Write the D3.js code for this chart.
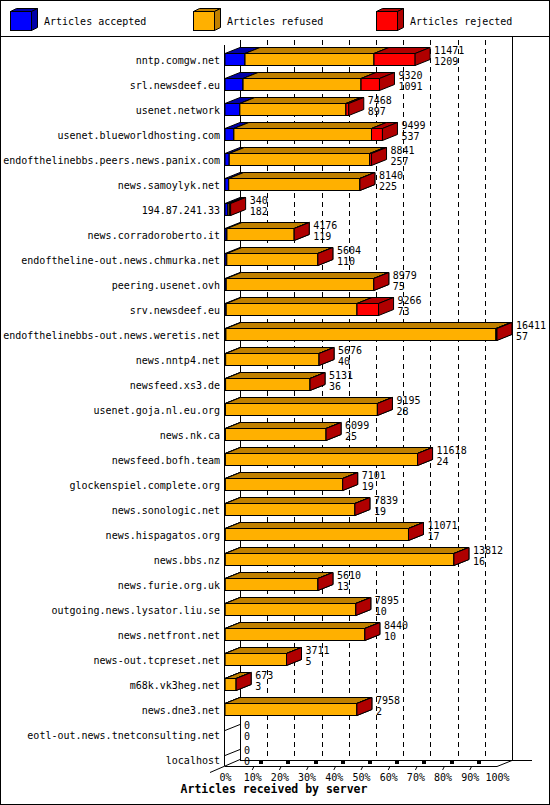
<!DOCTYPE html>
<html>
<head>
<meta charset="utf-8">
<script src="https://cdn.jsdelivr.net/npm/d3@7"></script>
<style>
  body { margin: 0; background: #fff; }
  #chart text { font-family: "DejaVu Sans Mono", monospace; font-size: 10px; fill: #000; }
</style>
</head>
<body>
<div id="chart"></div>
<script>
var servers = [
  'nntp.comgw.net', 'srl.newsdeef.eu', 'usenet.network', 'usenet.blueworldhosting.com',
  'endofthelinebbs.peers.news.panix.com', 'news.samoylyk.net', '194.87.241.33',
  'news.corradoroberto.it', 'endoftheline-out.news.chmurka.net', 'peering.usenet.ovh',
  'srv.newsdeef.eu', 'endofthelinebbs-out.news.weretis.net', 'news.nntp4.net',
  'newsfeed.xs3.de', 'usenet.goja.nl.eu.org', 'news.nk.ca', 'newsfeed.bofh.team',
  'glockenspiel.complete.org', 'news.sonologic.net', 'news.hispagatos.org', 'news.bbs.nz',
  'news.furie.org.uk', 'outgoing.news.lysator.liu.se', 'news.netfront.net',
  'news-out.tcpreset.net', 'm68k.vk3heg.net', 'news.dne3.net',
  'eotl-out.news.tnetconsulting.net', 'localhost'
];
// first label on each bar = all articles offered, second = accepted
var totals = [11471, 9320, 7468, 9499, 8841, 8140, 340, 4176, 5604, 8979, 9266, 16411, 5676,
  5131, 9195, 6099, 11618, 7101, 7839, 11071, 13812, 5610, 7895, 8440, 3711, 673, 7958, 0, 0];
var accepted = [1209, 1091, 897, 537, 257, 225, 182, 119, 110, 75, 73, 57, 40,
  36, 28, 25, 24, 19, 19, 17, 16, 13, 10, 10, 5, 3, 2, 0, 0];
var rejected = [2480, 1110, 170, 660, 110, 0, 75, 0, 0, 0, 1300, 60, 0,
  0, 0, 0, 0, 0, 0, 0, 0, 0, 0, 0, 0, 0, 0, 0, 0];
var seriesNames = ['Articles accepted', 'Articles refused', 'Articles rejected'];
var pctTicks = [0, 10, 20, 30, 40, 50, 60, 70, 80, 90, 100];
var axisTitle = 'Articles received by server';

(function () {
  var width = 550;
  var height = 805;
  var DX = 15;
  var DY = 6;
  var half = 6;
  var front = ['#0000ff', '#ffb000', '#ff0000'];
  var dark = ['#0000a8', '#c08000', '#b00000'];

  var refused = totals.map(function (t, i) { return t - accepted[i] - rejected[i]; });
  var rows = servers.map(function (name, i) {
    return { name: name, total: totals[i], values: [accepted[i], refused[i], rejected[i]], acc: accepted[i] };
  });

  var svg = d3.select('#chart').append('svg')
    .attr('width', width)
    .attr('height', height);

  var x = d3.scaleLinear().domain([0, d3.max(totals)]).range([225, 497]);
  var pct = d3.scaleLinear().domain([0, 100]).range([225, 497]);
  var y = d3.scaleBand().domain(servers).range([47, 47 + servers.length * 25]);
  function cy(name) { return y(name) + y.bandwidth() / 2; }

  var floorBack = 760;
  var floorFront = floorBack + DY;
  var top = 40;

  // frame and legend box
  svg.append('rect').attr('x', 0.5).attr('y', 0.5).attr('width', width - 1).attr('height', height - 1)
    .attr('fill', 'none').attr('stroke', '#000');
  svg.append('line').attr('x1', 0).attr('x2', width).attr('y1', 36.5).attr('y2', 36.5).attr('stroke', '#000');

  var legendX = [10, 193, 376];
  seriesNames.forEach(function (name, s) {
    var lx = legendX[s];
    var g = svg.append('g').attr('stroke', '#000').attr('stroke-width', 1);
    g.append('rect').attr('x', lx + 0.5).attr('y', 11.5).attr('width', 21).attr('height', 19).attr('fill', front[s]);
    g.append('polygon').attr('points', [[lx + 0.5, 11.5], [lx + 21.5, 11.5], [lx + 27.5, 8.5], [lx + 6.5, 8.5]].join(' '))
      .attr('fill', dark[s]);
    g.append('polygon').attr('points', [[lx + 21.5, 11.5], [lx + 27.5, 8.5], [lx + 27.5, 27.5], [lx + 21.5, 30.5]].join(' '))
      .attr('fill', dark[s]);
    svg.append('text').attr('x', lx + 34).attr('y', 25).text(name);
  });

  var walls = svg.append('g').attr('stroke', '#000').attr('fill', 'none').attr('shape-rendering', 'crispEdges');

  // dashed grid on the back wall
  walls.selectAll('line.grid').data(pctTicks.slice(1, -1)).enter().append('line')
    .attr('class', 'grid')
    .attr('x1', function (d) { return Math.round(pct(d) + DX) + 0.5; })
    .attr('x2', function (d) { return Math.round(pct(d) + DX) + 0.5; })
    .attr('y1', top).attr('y2', floorBack)
    .attr('stroke-dasharray', '5,4');

  walls.append('line').attr('x1', pct(0) + DX + 0.5).attr('x2', pct(0) + DX + 0.5).attr('y1', top).attr('y2', floorBack);
  walls.append('line').attr('x1', pct(100) + DX + 0.5).attr('x2', pct(100) + DX + 0.5).attr('y1', 36).attr('y2', floorBack);
  walls.append('line').attr('x1', pct(0) + DX).attr('x2', 532).attr('y1', floorBack + 0.5).attr('y2', floorBack + 0.5);
  walls.append('line').attr('x1', pct(0) - 0.5).attr('x2', pct(0) - 0.5).attr('y1', 45).attr('y2', floorFront);
  walls.append('line').attr('x1', pct(0)).attr('x2', pct(100)).attr('y1', floorFront + 0.5).attr('y2', floorFront + 0.5);

  var slants = svg.append('g').attr('stroke', '#000');
  slants.append('line').attr('x1', pct(100)).attr('y1', floorFront + 0.5).attr('x2', pct(100) + DX).attr('y2', floorBack + 0.5);
  slants.append('line').attr('x1', pct(0) - DX).attr('y1', floorFront + DY + 0.5).attr('x2', pct(0) + DX).attr('y2', floorBack - 0.5);

  // little floor ticks
  pctTicks.slice(1, -1).forEach(function (d) {
    var tx = pct(d);
    slants.append('line').attr('x1', tx).attr('y1', floorFront + 4).attr('x2', tx + 2).attr('y2', floorFront);
    svg.append('rect').attr('x', Math.round(tx + 7)).attr('y', floorBack + 1).attr('width', 4).attr('height', 3).attr('fill', '#000');
  });

  // row ticks on the left wall (hidden behind bars)
  rows.forEach(function (r) {
    var c = cy(r.name);
    slants.append('line').attr('x1', pct(0)).attr('y1', c - 4).attr('x2', pct(0) + DX).attr('y2', c - 10);
  });

  // bars
  var bars = svg.append('g').attr('stroke', '#000').attr('stroke-width', 1).attr('stroke-linejoin', 'miter');
  rows.forEach(function (r) {
    if (r.total <= 0) { return; }
    var c = cy(r.name);
    var yt = c - half;
    var yb = c + half;
    var cum = 0;
    r.values.forEach(function (v, s) {
      var xa = x(cum);
      var xb = x(cum + v);
      cum += v;
      bars.append('rect').attr('x', xa).attr('y', yt).attr('width', Math.max(0, xb - xa)).attr('height', yb - yt)
        .attr('fill', front[s]);
      bars.append('polygon').attr('points', [[xa, yt], [xb, yt], [xb + DX, yt - DY], [xa + DX, yt - DY]].join(' '))
        .attr('fill', dark[s]);
      bars.append('polygon').attr('points', [[xb, yt], [xb + DX, yt - DY], [xb + DX, yb - DY], [xb, yb]].join(' '))
        .attr('fill', dark[s]);
    });
  });

  // value labels
  var labels = svg.append('g');
  rows.forEach(function (r) {
    var c = cy(r.name);
    var lx = x(r.total) + DX + 4;
    labels.append('text').attr('x', lx).attr('y', c - 5.5).text(r.total);
    labels.append('text').attr('x', lx).attr('y', c + 5.5).text(r.acc);
  });

  // server names
  var yAxis = svg.append('g')
    .attr('transform', 'translate(221,0)')
    .call(d3.axisLeft(y).tickSize(0).tickPadding(1));
  yAxis.select('.domain').remove();
  yAxis.attr('font-family', null).attr('font-size', null);
  yAxis.selectAll('text').attr('dy', null).attr('y', 4);

  // percentage axis
  var xAxis = svg.append('g')
    .attr('transform', 'translate(0,' + floorFront + ')')
    .call(d3.axisBottom(pct).tickValues(pctTicks).tickSize(0).tickPadding(8).tickFormat(function (d) { return d + '%'; }));
  xAxis.select('.domain').remove();
  xAxis.attr('font-family', null).attr('font-size', null);

  svg.append('text')
    .attr('x', 274).attr('y', 793)
    .attr('text-anchor', 'middle')
    .style('font-weight', 'bold')
    .style('font-size', '11.5px')
    .text(axisTitle);
})();
</script>
</body>
</html>
